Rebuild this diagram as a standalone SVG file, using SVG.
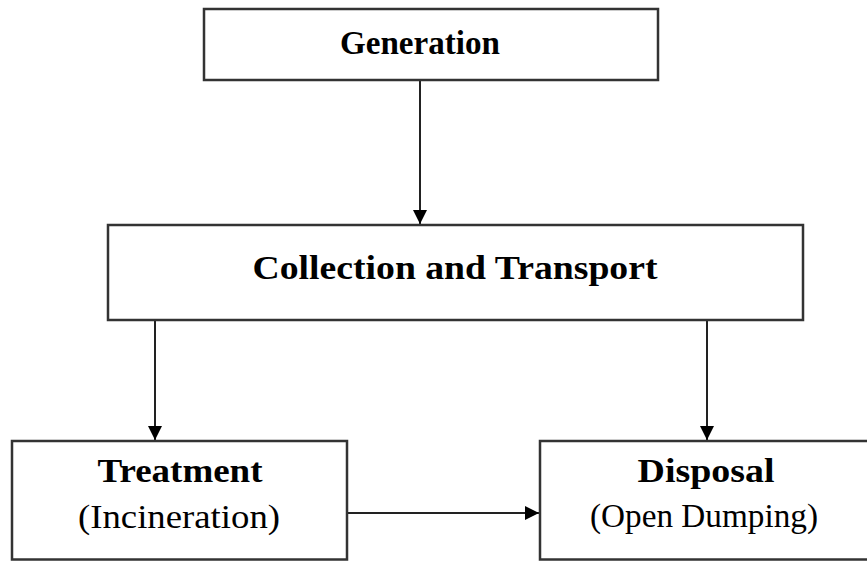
<svg xmlns="http://www.w3.org/2000/svg" width="867" height="561" viewBox="0 0 867 561">
<defs>
<style>
.box{fill:#ffffff;stroke:#333333;stroke-width:2.5}
.t{font-family:"Liberation Serif","Times New Roman",serif;fill:#000;text-anchor:middle}
.b{font-weight:bold;font-size:33px}
.r{font-size:33px}
.c{stroke:#222222;stroke-width:2;fill:none;marker-end:url(#ah)}
</style>
<marker id="ah" markerWidth="15" markerHeight="15" refX="14" refY="7" orient="auto" markerUnits="userSpaceOnUse">
<path d="M0,0 L14,7 L0,14 Z" fill="#000"/>
</marker>
</defs>
<rect width="867" height="561" fill="#ffffff"/>
<g id="connectors">
<line class="c" x1="420" y1="80" x2="420" y2="224"/>
<line class="c" x1="155" y1="320" x2="155" y2="440"/>
<line class="c" x1="707" y1="320" x2="707" y2="440"/>
<line class="c" x1="347" y1="513" x2="539" y2="513"/>
</g>
<g id="generation">
<rect class="box" x="204" y="9" width="454" height="71"/>
<text class="t b" x="420" y="54" textLength="160" lengthAdjust="spacingAndGlyphs">Generation</text>
</g>
<g id="collection">
<rect class="box" x="108" y="225" width="695" height="95"/>
<text class="t b" x="455" y="279" textLength="405" lengthAdjust="spacingAndGlyphs">Collection and Transport</text>
</g>
<g id="treatment">
<rect class="box" x="12" y="441" width="335" height="118.5"/>
<text class="t b" x="180" y="482" textLength="165" lengthAdjust="spacingAndGlyphs">Treatment</text>
<text class="t r" x="179" y="528" textLength="202" lengthAdjust="spacingAndGlyphs">(Incineration)</text>
</g>
<g id="disposal">
<rect class="box" x="540" y="441" width="330" height="118.5"/>
<text class="t b" x="706" y="482" textLength="137" lengthAdjust="spacingAndGlyphs">Disposal</text>
<text class="t r" x="704" y="527" textLength="228" lengthAdjust="spacingAndGlyphs">(Open Dumping)</text>
</g>
</svg>
